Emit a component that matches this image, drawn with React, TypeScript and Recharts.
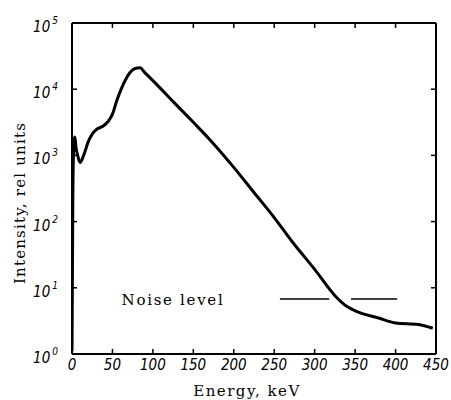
import React from "react";
import { LineChart, Line, XAxis, YAxis, ReferenceLine } from "recharts";

// spectrum (energy in keV, intensity in rel. units)
const energy = [
  0, 1, 2, 3.5, 5, 7, 10, 15, 20, 25, 30, 38, 45, 50, 55, 60, 67, 72, 78, 84,
  90, 100, 125, 150, 171, 200, 225, 250, 272, 300, 326, 340, 354, 379, 400,
  428, 446,
];
const intensity = [
  1.1, 200, 1200, 1900, 1300, 1000, 780, 1050, 1600, 2100, 2450, 2750, 3300,
  4200, 6500, 9500, 14500, 18000, 20500, 21000, 17800, 13500, 6500, 3160,
  1700, 660, 275, 115, 50, 19, 7.4, 5.2, 4.3, 3.5, 2.95, 2.8, 2.45,
];

// noise level, drawn as two dashes
const noiseLevel = 6.8;
const noiseStart = [257, 345];
const noiseEnd = [318, 402];

const xTicks = [0, 50, 100, 150, 200, 250, 300, 350, 400, 450];
const yTicks = [1, 10, 100, 1000, 10000, 100000];
const xMin = 0;
const xMax = 450;
const yMin = 1;
const yMax = 100000;

// one table: spectrum rows + noise dash end points; noise value only inside a dash
const allEnergies = Array.from(new Set([...energy, ...noiseStart, ...noiseEnd])).sort((a, b) => a - b);
const table = allEnergies.map((e) => {
  const idx = energy.indexOf(e);
  const inNoise = noiseStart.some((s, i) => e >= s && e <= noiseEnd[i]);
  return {
    e,
    v: idx >= 0 ? intensity[idx] : null,
    n: inNoise ? noiseLevel : null,
  };
});

// inward tick length, in data units (~5px)
const xTickLen = ((xMax - xMin) * 5) / 364;
const yTickFactor = Math.pow(10, (5 * 5) / 331);

const tickFont = "'Liberation Sans Narrow', 'DejaVu Sans Condensed', 'Liberation Sans', sans-serif";
const titleFont = "'DejaVu Serif', 'Liberation Serif', serif";

const XTick = (props: any) => {
  const { x, y, payload } = props;
  return (
    <text
      x={x}
      y={y + 8}
      textAnchor="middle"
      fontFamily={tickFont}
      fontStyle="italic"
      fontSize={15}
      fill="#000"
    >
      {payload.value}
    </text>
  );
};

const YTick = (props: any) => {
  const { x, y, payload } = props;
  const exp = Math.round(Math.log10(payload.value));
  return (
    <text
      x={x - 6}
      y={y + 9}
      textAnchor="end"
      fontFamily={tickFont}
      fontStyle="italic"
      fontSize={15}
      fill="#000"
    >
      10
      <tspan dx={2} dy={-8} fontSize={10}>
        {exp}
      </tspan>
    </text>
  );
};

const frame = { stroke: "#000", strokeWidth: 2 };
const tickMark = { stroke: "#000", strokeWidth: 1.5 };

const App: React.FC = () => {
  return (
    <div style={{ position: "absolute", left: 0, top: 0 }}>
      <LineChart
        width={451}
        height={400}
        data={table}
        margin={{ top: 23, right: 15, bottom: 0, left: 0 }}
      >
        <XAxis
          dataKey="e"
          type="number"
          domain={[xMin, xMax]}
          ticks={xTicks}
          allowDataOverflow
          height={46}
          tickLine={false}
          tick={<XTick />}
          stroke="#000"
          strokeWidth={2}
        />
        <YAxis
          dataKey="v"
          scale="log"
          domain={[yMin, yMax]}
          ticks={yTicks}
          allowDataOverflow
          width={72}
          tickLine={false}
          tick={<YTick />}
          stroke="#000"
          strokeWidth={2}
        />

        {/* frame */}
        <ReferenceLine x={xMin} {...frame} ifOverflow="visible" />
        <ReferenceLine x={xMax} {...frame} ifOverflow="visible" />
        <ReferenceLine y={yMin} {...frame} ifOverflow="visible" />
        <ReferenceLine y={yMax} {...frame} ifOverflow="visible" />

        {/* inward tick marks on all four sides */}
        {xTicks.slice(1, -1).map((t) => (
          <ReferenceLine
            key={`xb-${t}`}
            segment={[{ x: t, y: yMin }, { x: t, y: yMin * yTickFactor }]}
            {...tickMark}
            ifOverflow="visible"
          />
        ))}
        {xTicks.slice(1, -1).map((t) => (
          <ReferenceLine
            key={`xt-${t}`}
            segment={[{ x: t, y: yMax }, { x: t, y: yMax / yTickFactor }]}
            {...tickMark}
            ifOverflow="visible"
          />
        ))}
        {yTicks.slice(1, -1).map((t) => (
          <ReferenceLine
            key={`yl-${t}`}
            segment={[{ x: xMin, y: t }, { x: xMin + xTickLen, y: t }]}
            {...tickMark}
            ifOverflow="visible"
          />
        ))}
        {yTicks.slice(1, -1).map((t) => (
          <ReferenceLine
            key={`yr-${t}`}
            segment={[{ x: xMax, y: t }, { x: xMax - xTickLen, y: t }]}
            {...tickMark}
            ifOverflow="visible"
          />
        ))}

        <Line
          dataKey="v"
          type="monotone"
          connectNulls
          stroke="#000"
          strokeWidth={3}
          dot={false}
          isAnimationActive={false}
        />
        <Line
          dataKey="n"
          type="linear"
          stroke="#000"
          strokeWidth={1.5}
          dot={false}
          isAnimationActive={false}
        />
      </LineChart>
      <svg
        width={451}
        height={400}
        style={{ position: "absolute", left: 0, top: 0, pointerEvents: "none" }}
      >
        <text
          x={20}
          y={203}
          transform="rotate(-90 20 203)"
          textAnchor="middle"
          dominantBaseline="central"
          fontFamily={titleFont}
          fontSize={15}
          letterSpacing={1.2}
          fill="#000"
        >
          Intensity, rel units
        </text>
        <text
          x={247}
          y={396}
          textAnchor="middle"
          fontFamily={titleFont}
          fontSize={15}
          letterSpacing={1.5}
          fill="#000"
        >
          Energy, keV
        </text>
        <text
          x={173}
          y={305}
          textAnchor="middle"
          fontFamily={titleFont}
          fontSize={15}
          letterSpacing={1.7}
          fill="#000"
        >
          Noise level
        </text>
      </svg>
    </div>
  );
};

export default App;
